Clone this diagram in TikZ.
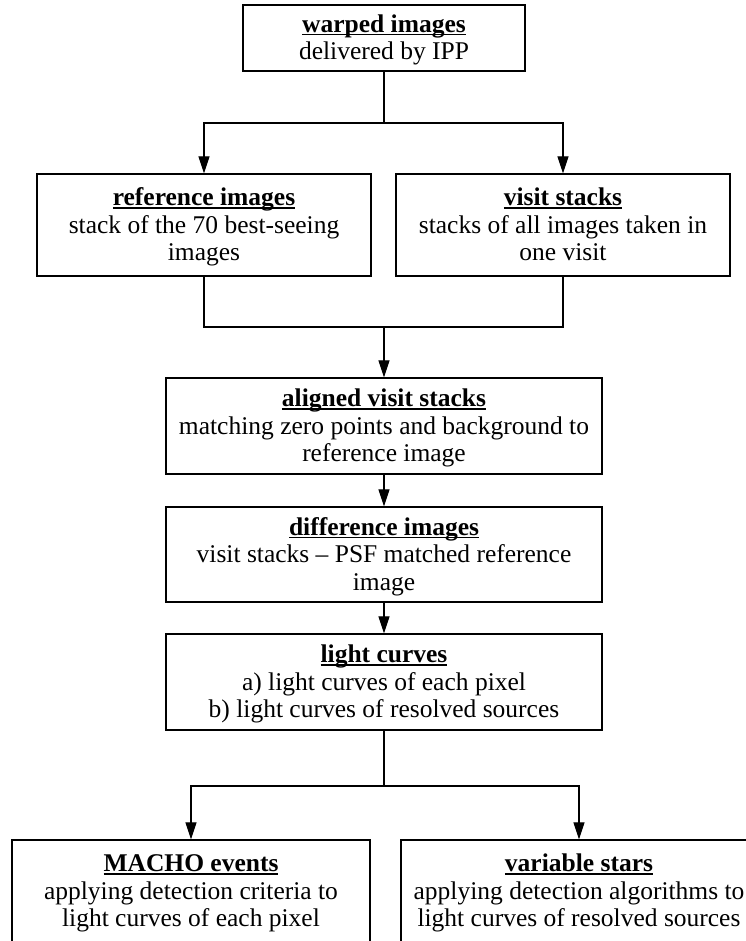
\documentclass[tikz,border=0pt]{standalone}
\usepackage{fontspec}
\setmainfont{Liberation Serif}
\usetikzlibrary{arrows.meta}
\newlength\tlen
\newcommand\boxtitle[1]{\settowidth\tlen{\textbf{#1}}\rule{0pt}{22pt}\textbf{#1}\hspace{-\tlen}\rule[-2.8pt]{\tlen}{1.4pt}}
\newcommand\lastline[1]{#1\rule[-5.5pt]{0pt}{5.5pt}}
\begin{document}
\begin{tikzpicture}[x=1pt,y=-1pt,
  box/.style={draw, line width=1.2pt, rectangle, align=center, inner sep=0pt,
    font=\fontsize{25.5}{27.5}\selectfont},
  conn/.style={line width=1.1pt},
  arr/.style={conn, -{Triangle[width=11pt,length=17pt]}}]
\useasboundingbox (0,0) rectangle (745,941);
\fill[white] (0,0) rectangle (745,941);
\node[box, minimum width=282pt, minimum height=66pt] (warp) at (384,38)
  {\boxtitle{warped images}\\\lastline{delivered by IPP}};
\node[box, minimum width=334pt, minimum height=102pt] (ref) at (204,225)
  {\boxtitle{reference images}\\stack of the 70 best-seeing\\\lastline{images}};
\node[box, minimum width=334pt, minimum height=102pt] (visit) at (563,225)
  {\boxtitle{visit stacks}\\stacks of all images taken in\\\lastline{one visit}};
\node[box, minimum width=436pt, minimum height=96pt] (aligned) at (384,426)
  {\boxtitle{aligned visit stacks}\\matching zero points and background to\\\lastline{reference image}};
\node[box, minimum width=436pt, minimum height=95pt] (diff) at (384,554.5)
  {\boxtitle{difference images}\\visit stacks -- PSF matched reference\\\lastline{image}};
\node[box, minimum width=436pt, minimum height=96pt] (light) at (384,682)
  {\boxtitle{light curves}\\a) light curves of each pixel\\\lastline{b) light curves of resolved sources}};
\node[box, minimum width=358pt, minimum height=102pt] (macho) at (191,891)
  {\boxtitle{MACHO events}\\applying detection criteria to\\\lastline{light curves of each pixel}};
\node[box, minimum width=356pt, minimum height=102pt] (var) at (579,891)
  {\boxtitle{variable stars}\\applying detection algorithms to\\\lastline{light curves of resolved sources}};
\coordinate (j1) at (384,123);
\coordinate (j2) at (384,327);
\coordinate (j3) at (384,786);
\draw[conn] (warp.south) -- (j1);
\draw[arr] (j1) -| (ref.north);
\draw[arr] (j1) -| (visit.north);
\draw[conn] (ref.south) -- (ref.south |- j2) -- (visit.south |- j2) -- (visit.south);
\draw[arr] (j2) -- (aligned.north);
\draw[arr] (aligned.south) -- (diff.north);
\draw[arr] (diff.south) -- (light.north);
\draw[conn] (light.south) -- (j3);
\draw[arr] (j3) -| (macho.north);
\draw[arr] (j3) -| (var.north);
\end{tikzpicture}
\end{document}
